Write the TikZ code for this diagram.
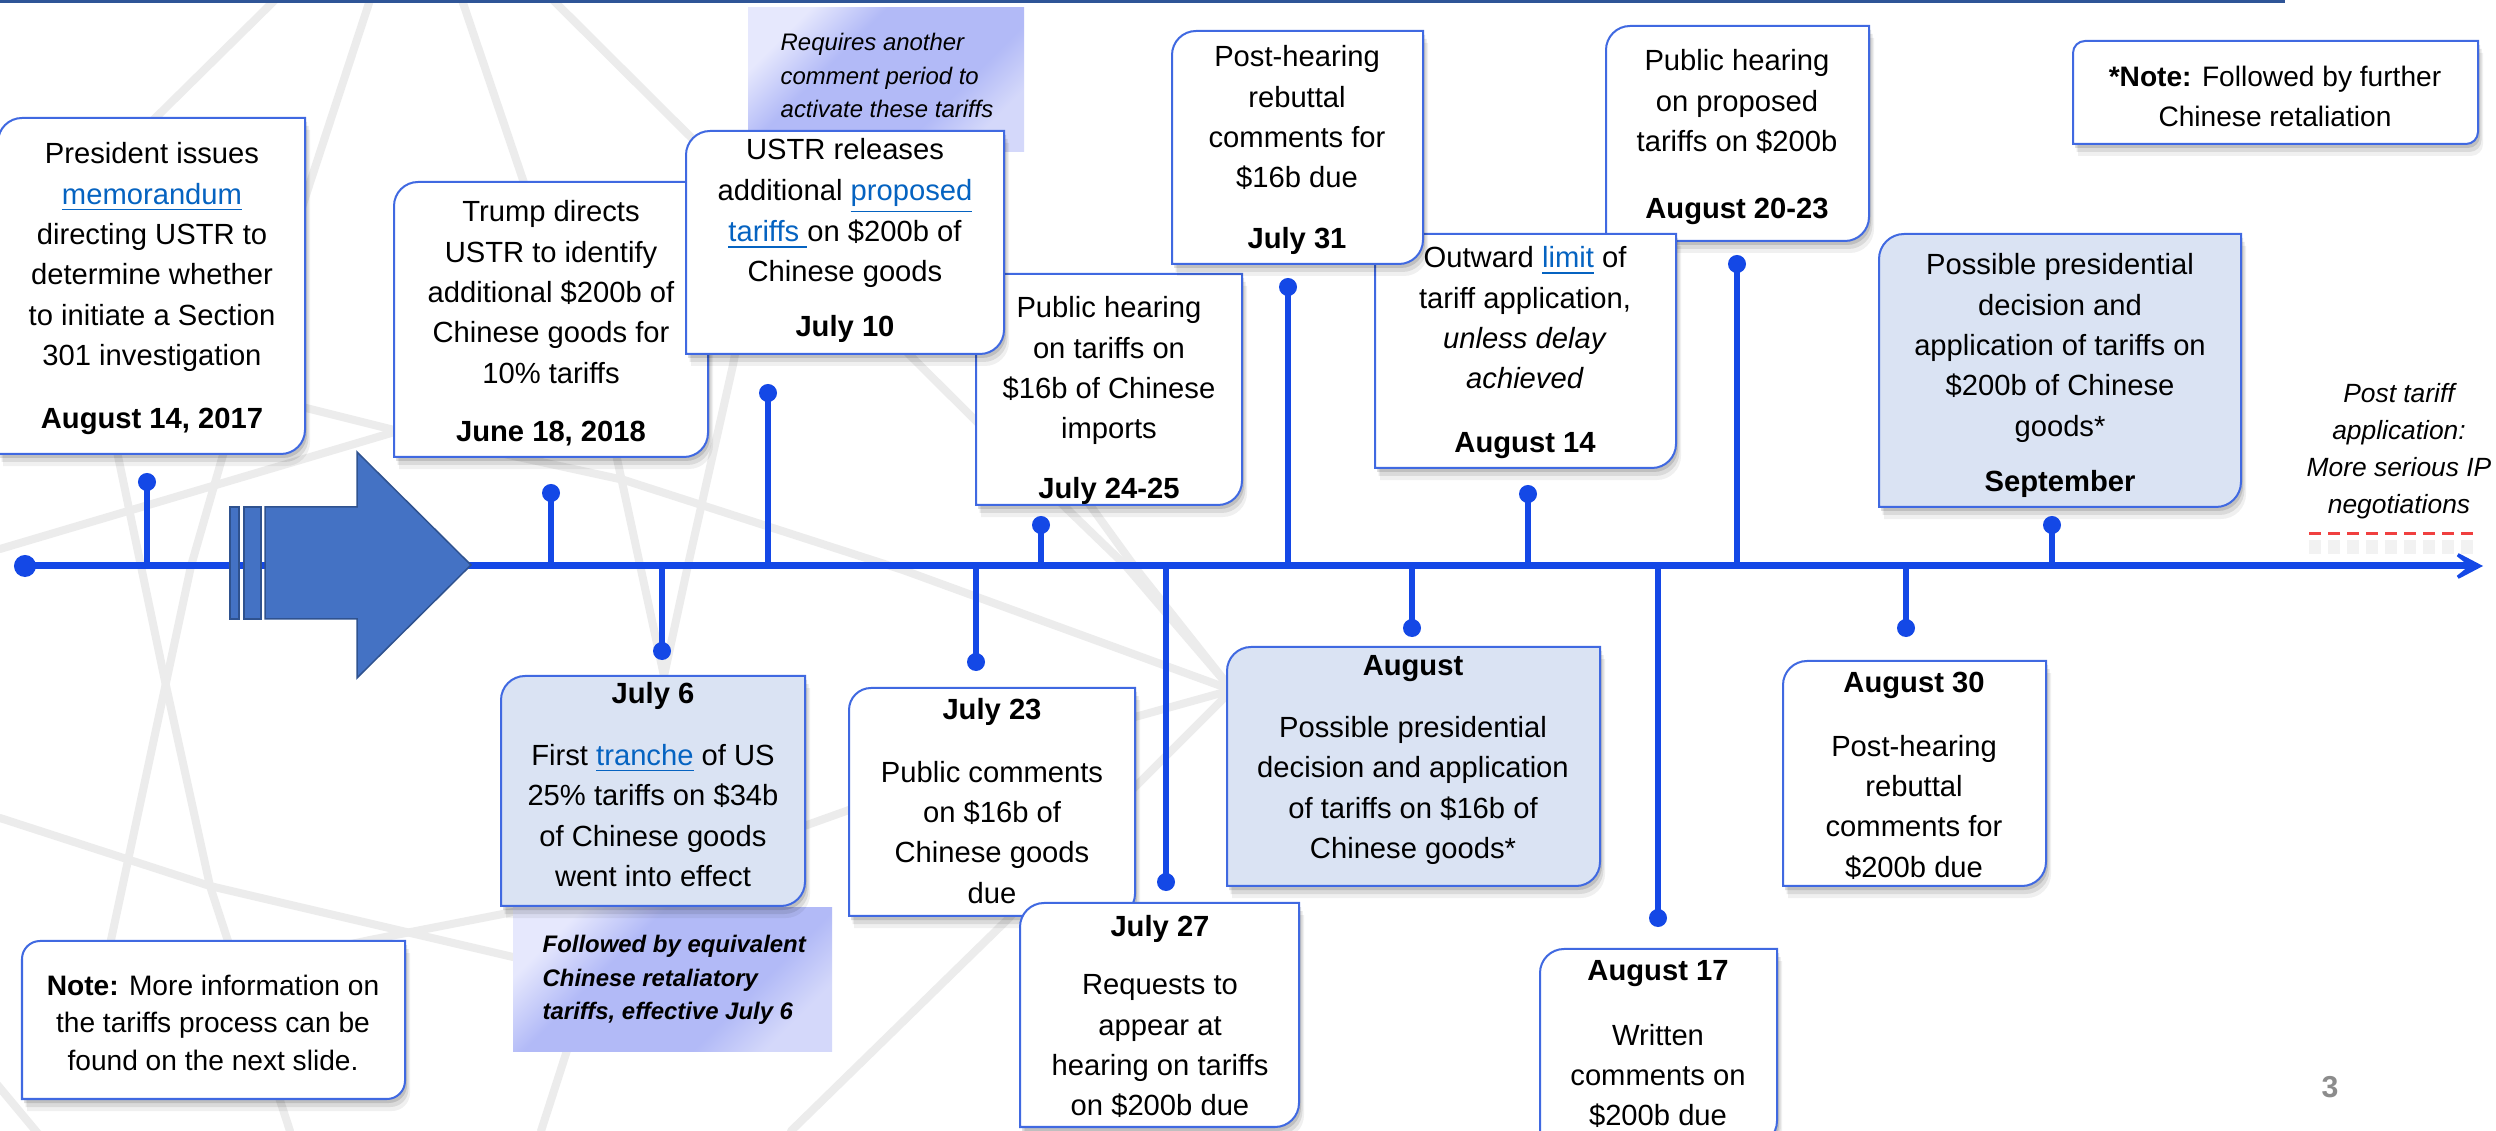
\documentclass[tikz,border=0pt]{standalone}
\usepackage{fontspec}
\setmainfont{Liberation Sans}
\usetikzlibrary{shadows,arrows.meta}
\definecolor{axisblue}{RGB}{20,72,230}
\definecolor{boxblue}{RGB}{64,105,225}
\definecolor{lightblue}{RGB}{218,227,243}
\definecolor{linkblue}{RGB}{5,99,193}
\definecolor{netgray}{RGB}{236,236,236}
\definecolor{navyline}{RGB}{47,85,151}
\definecolor{arrowfill}{RGB}{68,114,196}
\definecolor{arrowline}{RGB}{47,82,143}
\definecolor{notestrong}{RGB}{178,186,247}
\definecolor{notelight}{RGB}{230,232,253}
\definecolor{notelighttwo}{RGB}{212,216,250}
\definecolor{dashred}{RGB}{240,64,64}
\definecolor{pagegray}{RGB}{140,140,140}
\pgfdeclareverticalshading{notegrad}{100bp}{color(0bp)=(notelighttwo); color(25bp)=(notelighttwo); color(36bp)=(notestrong); color(62bp)=(notestrong); color(75bp)=(notelight); color(100bp)=(notelight)}

\newcommand\lnk[1]{{\color{linkblue}\underline{#1}}}
\newcommand\ctab[1]{\begin{tabular}[t]{@{}c@{}}#1\end{tabular}}
\newcommand\ltab[1]{\begin{tabular}[t]{@{}l@{}}#1\end{tabular}}
% x1 y1 x2 y2 style radius : rounded top-left and bottom-right corners
\newcommand\evshape[6]{\path[#5] ({(#1+#3)/2},#2) [sharp corners] -- (#3,#2) -- (#3,{(#2+#4)/2}) [rounded corners=#6] -- (#3,#4) -- ({(#1+#3)/2},#4) [sharp corners] -- (#1,#4) -- (#1,{(#2+#4)/2}) [rounded corners=#6] -- (#1,#2) -- cycle;}

\begin{document}
\begin{tikzpicture}[x=0.01cm, y=-0.01cm,
  wbox/.style={fill=white, draw=boxblue, line width=0.2mm,
    drop shadow={shadow xshift=0.2mm, shadow yshift=-0.4mm, opacity=0.12, fill=black},
    drop shadow={shadow xshift=0.35mm, shadow yshift=-0.8mm, opacity=0.09, fill=black},
    drop shadow={shadow xshift=0.5mm, shadow yshift=-1.2mm, opacity=0.06, fill=black}},
  bbox/.style={wbox, fill=lightblue},
  evtext/.style={anchor=base, inner sep=0pt, font=\fontsize{8.3}{11.47}\selectfont},
  notetext/.style={anchor=base west, inner sep=0pt},
  net/.style={draw=netgray, line width=0.8mm, line join=round, line cap=round},
  tickdot/.style={circle, fill=axisblue, inner sep=0pt, minimum size=1.8mm},
  stem/.style={draw=axisblue, line width=0.55mm},
  gnote/.style={shading=notegrad, shading angle=45},
  arrowpart/.style={fill=arrowfill, draw=arrowline, line width=0.15mm}
]
\useasboundingbox (0,0) rectangle (2496,1131);
\clip (0,0) rectangle (2496,1131);
\fill[white] (0,0) rectangle (2496,1131);

% background network
\draw[net] (275,0) -- (60,212);
\draw[net] (370,0) -- (306,195) -- (223,455) -- (191,566) -- (111,940) -- (95,1010);
\draw[net] (462,0) -- (540,230);
\draw[net] (553,0) -- (974,419) -- (1125,565) -- (1232,690);
\draw[net] (0,330) -- (306,408) -- (394,430) -- (624,480) -- (903,570) -- (1232,690);
\draw[net] (0,549) -- (398,431) -- (520,395);
\draw[net] (100,370) -- (165,681) -- (210,886) -- (290,1131);
\draw[net] (0,818) -- (210,886) -- (513,957) -- (600,975);
\draw[net] (300,955) -- (370,940) -- (513,912) -- (807,825) -- (849,810) -- (1135,717) -- (1232,690);
\draw[net] (600,380) -- (640,565) -- (664,676);
\draw[net] (745,300) -- (733,365) -- (688,565) -- (664,676) -- (614,905) -- (541,1131);
\draw[net] (1050,450) -- (1137,570) -- (1232,690);
\draw[net] (1232,690) -- (1135,787) -- (1006,921) -- (791,1131);
\draw[net] (-10,1076) -- (40,1136);

% top rule
\draw[navyline, line width=0.3mm] (0,1.5) -- (2285,1.5);

% ---- upper boxes ----
\evshape{-2}{118}{305}{454}{wbox}{2.4mm}
\node[evtext] (eA) at (152,164) {\ctab{President issues\\ \lnk{memorandum}\\ directing USTR to\\ determine whether\\ to initiate a Section\\ 301 investigation\\[6.5pt] \textbf{August 14, 2017}}};

\evshape{394}{182}{708}{457}{wbox}{2.4mm}
\node[evtext] (eB) at (551,222) {\ctab{Trump directs\\ USTR to identify\\ additional \$200b of\\ Chinese goods for\\ 10\% tariffs\\[5pt] \textbf{June 18, 2018}}};

\path[gnote] (748,8) rectangle (1024,152);
\node[notetext, font=\fontsize{6.8}{9.4}\selectfont\itshape] (nReq) at (780,51) {\ltab{Requires another\\ comment period to\\ activate these tariffs}};

\evshape{976}{274}{1242}{505}{wbox}{2.4mm}
\node[evtext] (eD) at (1109,318) {\ctab{Public hearing\\ on tariffs on\\ \$16b of Chinese\\ imports\\[5.4pt] \textbf{July 24-25}}};

\evshape{686}{131}{1004}{354}{wbox}{2.4mm}
\node[evtext] (eC) at (845,160) {\ctab{USTR releases\\ additional \lnk{proposed}\\ \lnk{tariffs }on \$200b of\\ Chinese goods\\[4pt] \textbf{July 10}}};

\evshape{1606}{26}{1869}{241}{wbox}{2.4mm}
\node[evtext] (eG) at (1737,71) {\ctab{Public hearing\\ on proposed\\ tariffs on \$200b\\[7.4pt] \textbf{August 20-23}}};

\evshape{1375}{234}{1676}{468}{wbox}{2.4mm}
\node[evtext] (eF) at (1525,268) {\ctab{Outward \lnk{limit} of\\ tariff application,\\ \textit{unless delay}\\ \textit{achieved}\\[6.5pt] \textbf{August 14}}};

\evshape{1172}{31}{1423}{264}{wbox}{2.4mm}
\node[evtext] (eE) at (1297,67) {\ctab{Post-hearing\\ rebuttal\\ comments for\\ \$16b due\\[5.7pt] \textbf{July 31}}};

\evshape{2073}{41}{2478}{144}{wbox}{1.2mm}
\node[evtext, font=\fontsize{8}{11.1}\selectfont] (eH) at (2275,87) {\ctab{\textbf{*Note:} Followed by further\\ Chinese retaliation}};

\evshape{1879}{234}{2241}{507}{bbox}{2.5mm}
\node[evtext] (eI) at (2060,275) {\ctab{Possible presidential\\ decision and\\ application of tariffs on\\ \$200b of Chinese\\ goods*\\[4.3pt] \textbf{September}}};

\node[anchor=base, inner sep=0pt, font=\fontsize{7.5}{10.44}\selectfont\itshape] (post) at (2399,403) {\ctab{Post tariff\\ application:\\ More serious IP\\ negotiations}};
\coordinate (dA) at (2309,534);
\coordinate (dB) at (2479,534);
\draw[black, opacity=0.05, line width=1.4mm, dash pattern=on 1.2mm off 0.7mm] ([yshift=-1.3mm]dA) -- ([yshift=-1.3mm]dB);
\draw[dashred, line width=0.3mm, dash pattern=on 1.2mm off 0.7mm] (dA) -- (dB);

% ---- lower boxes ----
\evshape{22}{941}{405}{1099}{wbox}{1.8mm}
\node[evtext, font=\fontsize{8}{10.67}\selectfont] (eJ) at (213,995) {\ctab{\textbf{Note:} More information on\\ the tariffs process can be\\ found on the next slide.}};

\path[gnote] (513,908) rectangle (832,1052);
\node[notetext, font=\fontsize{6.8}{9.4}\selectfont\bfseries\itshape] (nFol) at (542,953) {\ltab{Followed by equivalent\\ Chinese retaliatory\\ tariffs, effective July 6}};

\evshape{501}{676}{805}{906}{bbox}{2.4mm}
\node[evtext] (eK) at (653,704) {\ctab{\textbf{July 6}\\[6pt] First \lnk{tranche} of US\\ 25\% tariffs on \$34b\\ of Chinese goods\\ went into effect}};

\evshape{849}{688}{1135}{916}{wbox}{2.2mm}
\node[evtext] (eL) at (992,720) {\ctab{\textbf{July 23}\\[6.2pt] Public comments\\ on \$16b of\\ Chinese goods\\ due}};

\evshape{1020}{903}{1299}{1127}{wbox}{2.4mm}
\node[evtext] (eM) at (1160,937) {\ctab{\textbf{July 27}\\[5pt] Requests to\\ appear at\\ hearing on tariffs\\ on \$200b due}};

\evshape{1227}{647}{1600}{886}{bbox}{2.4mm}
\node[evtext] (eN) at (1413,676) {\ctab{\textbf{August}\\[6pt] Possible presidential\\ decision and application\\ of tariffs on \$16b of\\ Chinese goods*}};

\evshape{1540}{949}{1777}{1145}{wbox}{2.4mm}
\node[evtext] (eO) at (1658,981) {\ctab{\textbf{August 17}\\[6.8pt] Written\\ comments on\\ \$200b due}};

\evshape{1783}{661}{2046}{886}{wbox}{2.4mm}
\node[evtext] (eP) at (1914,693) {\ctab{\textbf{August 30}\\[6.5pt] Post-hearing\\ rebuttal\\ comments for\\ \$200b due}};

% ---- axis ----
\coordinate (axl) at (0,566);
\coordinate (axend) at (2483,566);
\node[circle, fill=axisblue, inner sep=0pt, minimum size=2.2mm] (start) at (25,566) {};
\draw[draw=axisblue, line width=0.7mm, -{Stealth[length=4mm,width=4.2mm,inset=2.6mm]}] (start.center) -- (axend);

\foreach \n/\x/\y in {A/147/482, B/551/493, C/768/393, D/1041/525, E/1288/287, F/1528/494, G/1737/264, I/2052/525,
                      K/662/651, L/976/662, M/1166/882, N/1412/628, O/1658/918, P/1906/628} {
  \node[tickdot] (t\n) at (\x,\y) {};
  \draw[stem] (t\n.center) -- (t\n.center |- axl);
}

% ---- striped block arrow ----
\path[arrowpart] (230,507) rectangle (239,619);
\path[arrowpart] (244,507) rectangle (261,619);
\path[arrowpart] (265,507) -- (357,507) -- (357,452) -- (471,565) -- (357,678) -- (357,619) -- (265,619) -- cycle;

% page number
\node[font=\fontsize{8.6}{10}\selectfont\bfseries, text=pagegray, inner sep=0pt] (pg) at (2330,1087) {3};
\end{tikzpicture}
\end{document}
